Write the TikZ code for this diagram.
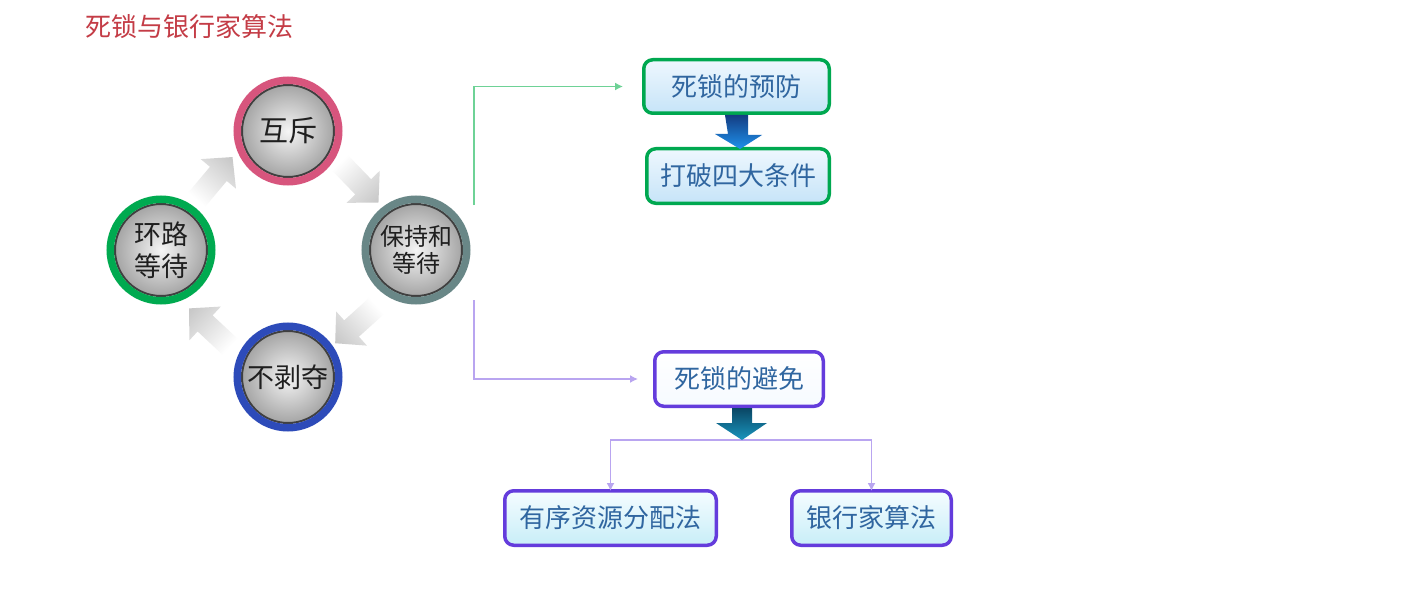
\documentclass[tikz,border=0pt]{standalone}
\usepackage{fontspec}
\setmainfont{Noto Sans CJK SC}
\usetikzlibrary{arrows.meta,calc}
\definecolor{ttl}{RGB}{196,60,70}
\definecolor{boxtxt}{RGB}{48,102,160}
\definecolor{gbord}{RGB}{0,168,80}
\definecolor{pbord}{RGB}{100,60,220}
\definecolor{gline}{RGB}{110,210,150}
\definecolor{pline}{RGB}{185,165,240}
\definecolor{ringpink}{RGB}{215,85,125}
\definecolor{ringteal}{RGB}{105,135,135}
\definecolor{ringgreen}{RGB}{0,170,80}
\definecolor{ringblue}{RGB}{45,75,185}
\definecolor{bluetop}{RGB}{20,60,130}
\definecolor{bluebot}{RGB}{30,145,235}
\definecolor{tealtop}{RGB}{10,70,100}
\definecolor{tealbot}{RGB}{25,150,190}
\definecolor{arrowgray}{RGB}{198,198,198}
\definecolor{ballrim}{RGB}{165,165,165}
\tikzset{
  ball/.style={circle, minimum size=92pt, inner sep=0pt, line width=2pt, draw=black!75,
    inner color={rgb,255:red,245;green,245;blue,245}, outer color=ballrim, text=black!88},
  ring/.style={line width=7.5pt},
  gbox/.style={rounded corners=9pt, line width=3.5pt, draw=gbord, text=boxtxt,
    top color={rgb,255:red,238;green,247;blue,254}, bottom color={rgb,255:red,198;green,228;blue,248},
    inner sep=0pt, font=\fontsize{26}{30}\selectfont},
  pbox/.style={rounded corners=9pt, line width=3.5pt, draw=pbord, text=boxtxt,
    inner sep=0pt, font=\fontsize{26}{30}\selectfont},
  conn/.style={line width=1.5pt},
  cyclearrow/.style={left color=white, right color=arrowgray, draw=none}
}
\newcommand{\cyclearrowat}[2]{%
  \begin{scope}[transform canvas={shift={#1},rotate=#2}]
    \shade[cyclearrow] (-28,-11) -- (6,-11) -- (6,-23) -- (28,0) -- (6,23) -- (6,11) -- (-28,11) -- cycle;
  \end{scope}}
\begin{document}
\begin{tikzpicture}[x=1pt,y=-1pt]
\useasboundingbox (0,0) rectangle (1408,591);
\fill[white] (0,0) rectangle (1408,591);

% title
\node[anchor=west, text=ttl, inner sep=0pt, font=\fontsize{26}{30}\selectfont] (title) at (85,27) {死锁与银行家算法};

% cycle of conditions
\node[ball, font=\fontsize{29}{34}\selectfont] (mutex) at (288,131) {互斥};
\node[ball, align=center, font=\fontsize{24}{27}\selectfont] (hold) at (416,250) {保持和\\等待};
\node[ball, font=\fontsize{27}{32}\selectfont] (nopre) at (288,377) {不剥夺};
\node[ball, align=center, font=\fontsize{27}{32}\selectfont] (loop) at (161,250) {环路\\等待};
\draw[ring, ringpink] (mutex.center) circle[radius=50.75];
\draw[ring, ringteal] (hold.center) circle[radius=50.75];
\draw[ring, ringblue] (nopre.center) circle[radius=50.75];
\draw[ring, ringgreen] (loop.center) circle[radius=50.75];

\cyclearrowat{($(mutex)!0.5!(hold)+(7,-8)$)}{-46}
\cyclearrowat{($(hold)!0.5!(nopre)+(4,11)$)}{-138}
\cyclearrowat{($(nopre)!0.5!(loop)+(-15,14)$)}{137}
\cyclearrowat{($(loop)!0.5!(mutex)+(-10,-12)$)}{50}

% prevention branch
\node[gbox, minimum width=185.5pt, minimum height=53.5pt] (prev) at (736.5,86.5) {死锁的预防};
\node[gbox, minimum width=182.5pt, minimum height=54.5pt] (break) at (738,176) {打破四大条件};
\shade[top color=bluetop, bottom color=bluebot, draw=none]
  ([xshift=-11.5pt]prev.south) -- ++(23,0) -- ++(0,20) -- ++(14,0) -- ($(break.north)+(2,2)$)
  -- ++(-25,-15) -- ++(13,0) -- cycle;

% avoidance branch
\node[pbox, minimum width=168.5pt, minimum height=54.5pt,
  top color=white, bottom color={rgb,255:red,246;green,250;blue,255}] (avoid) at (739,379) {死锁的避免};
\node[pbox, minimum width=211.5pt, minimum height=54.5pt,
  top color={rgb,255:red,245;green,252;blue,255}, bottom color={rgb,255:red,200;green,238;blue,248}] (ordered) at (610.5,518) {有序资源分配法};
\node[pbox, minimum width=159.5pt, minimum height=54.5pt,
  top color={rgb,255:red,245;green,252;blue,255}, bottom color={rgb,255:red,200;green,238;blue,248}] (banker) at (871.5,518) {银行家算法};

\coordinate (br) at (742,440);
\draw[conn, pline, -{Latex[length=8pt,width=8pt]}] (br) -| ([yshift=-2pt]ordered.north);
\draw[conn, pline, -{Latex[length=8pt,width=8pt]}] (br) -| ([yshift=-2pt]banker.north);
\shade[top color=tealtop, bottom color=tealbot, draw=none]
  ([xshift=-7pt]avoid.south) -- ++(20,0) -- ++(0,15) -- ++(15,0) -- (br)
  -- ++(-26,-17) -- ++(16,0) -- cycle;

% connectors from the cycle
\coordinate (gs) at (474,205);
\coordinate (ps) at (474,300);
\draw[conn, gline, -{Latex[length=8pt,width=8pt]}] (gs) |- ([xshift=-19pt]prev.west);
\draw[conn, pline, -{Latex[length=8pt,width=8pt]}] (ps) |- ([xshift=-15pt]avoid.west);
\end{tikzpicture}
\end{document}
